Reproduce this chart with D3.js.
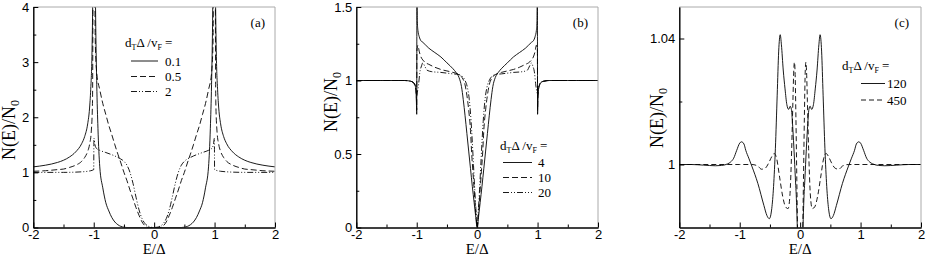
<!DOCTYPE html>
<html>
<head>
<meta charset="utf-8">
<script src="https://cdn.jsdelivr.net/npm/d3@7"></script>
<style>
  body { margin: 0; background: #fff; }
  svg { display: block; }
  .tick text { font-family: "Liberation Sans", Arial, sans-serif; font-size: 13px; fill: #000; }
  .tick line { stroke: #000; stroke-width: 1; }
  .serif { font-family: "Liberation Serif", "Times New Roman", serif; fill: #000; }
</style>
</head>
<body>
<svg id="chart" width="926" height="262"></svg>
<script>
// ---- data: [E/Δ, N(E)/N0] ----
let xMajor = [-2, -1, 0, 1, 2];
let xMinor = [-1.5, -0.5, 0.5, 1.5];

// panel (a)
let aYMajor = [0, 1, 2, 3, 4];
let aYMinor = [0.5, 1.5, 2.5, 3.5];
let aLabels = ['0.1', '0.5', '2'];
let a01 = [
  [-2, 1.10], [-1.8, 1.13], [-1.6, 1.18], [-1.5, 1.22], [-1.4, 1.28], [-1.3, 1.37], [-1.2, 1.52],
  [-1.15, 1.65], [-1.1, 1.88], [-1.07, 2.15], [-1.05, 2.5], [-1.03, 3.1], [-1.015, 4.2], [-1.0, 6],
  [-0.985, 6], [-0.97, 4.0], [-0.95, 2.6], [-0.93, 1.8], [-0.9, 1.1], [-0.85, 0.72], [-0.8, 0.45],
  [-0.75, 0.3], [-0.7, 0.18], [-0.65, 0.1], [-0.6, 0.05], [-0.55, 0.02], [-0.5, 0.005], [-0.45, 0],
  [0, 0],
  [0.45, 0], [0.5, 0.005], [0.55, 0.02], [0.6, 0.05], [0.65, 0.1], [0.7, 0.18], [0.75, 0.3],
  [0.8, 0.45], [0.85, 0.72], [0.9, 1.1], [0.93, 1.8], [0.95, 2.6], [0.97, 4.0], [0.985, 6],
  [1.0, 6], [1.015, 4.2], [1.03, 3.1], [1.05, 2.5], [1.07, 2.15], [1.1, 1.88], [1.15, 1.65],
  [1.2, 1.52], [1.3, 1.37], [1.4, 1.28], [1.5, 1.22], [1.6, 1.18], [1.8, 1.13], [2, 1.10]
];
let a05 = [
  [-2, 1.02], [-1.8, 1.03], [-1.6, 1.05], [-1.5, 1.06], [-1.4, 1.09], [-1.3, 1.13], [-1.2, 1.2],
  [-1.15, 1.27], [-1.1, 1.38], [-1.07, 1.5], [-1.04, 1.75], [-1.02, 2.3], [-1.005, 6], [-0.99, 6],
  [-0.975, 3.4], [-0.95, 2.8], [-0.9, 2.5], [-0.85, 2.25], [-0.8, 2.05], [-0.75, 1.85], [-0.7, 1.68],
  [-0.65, 1.5], [-0.6, 1.33], [-0.55, 1.17], [-0.5, 1.0], [-0.45, 0.85], [-0.4, 0.68], [-0.35, 0.52],
  [-0.3, 0.36], [-0.25, 0.22], [-0.2, 0.1], [-0.15, 0.03], [-0.1, 0],
  [0, 0],
  [0.1, 0], [0.15, 0.03], [0.2, 0.1], [0.25, 0.22], [0.3, 0.36], [0.35, 0.52], [0.4, 0.68],
  [0.45, 0.85], [0.5, 1.0], [0.55, 1.17], [0.6, 1.33], [0.65, 1.5], [0.7, 1.68], [0.75, 1.85],
  [0.8, 2.05], [0.85, 2.25], [0.9, 2.5], [0.95, 2.8], [0.975, 3.4], [0.99, 6], [1.005, 6],
  [1.02, 2.3], [1.04, 1.75], [1.07, 1.5], [1.1, 1.38], [1.15, 1.27], [1.2, 1.2], [1.3, 1.13],
  [1.4, 1.09], [1.5, 1.06], [1.6, 1.05], [1.8, 1.03], [2, 1.02]
];
let a2 = [
  [-2, 1.0], [-1.5, 1.0], [-1.2, 1.01], [-1.1, 1.02], [-1.05, 1.03], [-1.0, 1.05], [-0.997, 1.62],
  [-0.98, 1.5], [-0.95, 1.43], [-0.9, 1.4], [-0.8, 1.36], [-0.7, 1.32], [-0.6, 1.27], [-0.5, 1.2],
  [-0.45, 1.13], [-0.4, 1.0], [-0.35, 0.8], [-0.3, 0.55], [-0.25, 0.32], [-0.2, 0.16],
  [-0.15, 0.07], [-0.1, 0.025], [-0.05, 0.005], [0, 0],
  [0.05, 0.005], [0.1, 0.025], [0.15, 0.07], [0.2, 0.16], [0.25, 0.32], [0.3, 0.55], [0.35, 0.8],
  [0.4, 1.0], [0.45, 1.13], [0.5, 1.2], [0.6, 1.27], [0.7, 1.32], [0.8, 1.36], [0.9, 1.4],
  [0.95, 1.43], [0.98, 1.5], [0.997, 1.62], [1.0, 1.05], [1.05, 1.03], [1.1, 1.02],
  [1.2, 1.01], [1.5, 1.0], [2, 1.0]
];

// panel (b)
let bYMajor = [0, 0.5, 1, 1.5];
let bYMinor = [0.25, 0.75, 1.25];
let bLabels = ['4', '10', '20'];
let b4 = [
  [-2, 1.0], [-1.5, 1.0], [-1.2, 1.0], [-1.1, 0.995], [-1.05, 0.985], [-1.03, 0.97], [-1.015, 0.94],
  [-1.005, 0.85], [-1.0, 0.77], [-0.997, 1.6], [-0.99, 1.4], [-0.98, 1.34], [-0.96, 1.3], [-0.93, 1.27],
  [-0.9, 1.26], [-0.8, 1.22], [-0.7, 1.19], [-0.6, 1.16], [-0.5, 1.12], [-0.4, 1.08], [-0.35, 1.055],
  [-0.3, 1.02], [-0.26, 0.96], [-0.23, 0.87], [-0.2, 0.76], [-0.17, 0.64], [-0.14, 0.52], [-0.11, 0.4],
  [-0.08, 0.28], [-0.05, 0.17], [-0.025, 0.08], [0, 0],
  [0.025, 0.08], [0.05, 0.17], [0.08, 0.28], [0.11, 0.4], [0.14, 0.52], [0.17, 0.64], [0.2, 0.76],
  [0.23, 0.87], [0.26, 0.96], [0.3, 1.02], [0.35, 1.055], [0.4, 1.08], [0.5, 1.12], [0.6, 1.16],
  [0.7, 1.19], [0.8, 1.22], [0.9, 1.26], [0.93, 1.27], [0.96, 1.3], [0.98, 1.34], [0.99, 1.4],
  [0.997, 1.6], [1.0, 0.77], [1.005, 0.85], [1.015, 0.94], [1.03, 0.97], [1.05, 0.985], [1.1, 0.995],
  [1.2, 1.0], [1.5, 1.0], [2, 1.0]
];
let b10 = [
  [-2, 1.0], [-1.2, 1.0], [-1.1, 0.995], [-1.05, 0.98], [-1.02, 0.95], [-1.005, 0.88], [-1.0, 0.8],
  [-0.997, 1.2], [-0.98, 1.24], [-0.96, 1.2], [-0.93, 1.16], [-0.9, 1.14], [-0.85, 1.12], [-0.8, 1.11],
  [-0.7, 1.09], [-0.6, 1.075], [-0.5, 1.065], [-0.4, 1.055], [-0.3, 1.04], [-0.25, 1.02], [-0.2, 0.97],
  [-0.17, 0.9], [-0.14, 0.8], [-0.11, 0.66], [-0.09, 0.5], [-0.07, 0.38], [-0.05, 0.26], [-0.03, 0.14],
  [-0.015, 0.06], [0, 0],
  [0.015, 0.06], [0.03, 0.14], [0.05, 0.26], [0.07, 0.38], [0.09, 0.5], [0.11, 0.66], [0.14, 0.8],
  [0.17, 0.9], [0.2, 0.97], [0.25, 1.02], [0.3, 1.04], [0.4, 1.055], [0.5, 1.065], [0.6, 1.075],
  [0.7, 1.09], [0.8, 1.11], [0.85, 1.12], [0.9, 1.14], [0.93, 1.16], [0.96, 1.2], [0.98, 1.24],
  [0.997, 1.2], [1.0, 0.8], [1.005, 0.88], [1.02, 0.95], [1.05, 0.98], [1.1, 0.995], [1.2, 1.0], [2, 1.0]
];
let b20 = [
  [-2, 1.0], [-1.2, 1.0], [-1.1, 0.995], [-1.05, 0.985], [-1.02, 0.96], [-1.0, 0.9], [-0.99, 0.92],
  [-0.97, 0.97], [-0.95, 1.05], [-0.92, 1.1], [-0.9, 1.12], [-0.87, 1.1], [-0.83, 1.07], [-0.75, 1.06],
  [-0.6, 1.055], [-0.5, 1.05], [-0.4, 1.045], [-0.3, 1.04], [-0.25, 1.03], [-0.2, 1.0], [-0.16, 0.95],
  [-0.13, 0.87], [-0.1, 0.72], [-0.08, 0.58], [-0.06, 0.42], [-0.04, 0.26], [-0.02, 0.12], [0, 0],
  [0.02, 0.12], [0.04, 0.26], [0.06, 0.42], [0.08, 0.58], [0.1, 0.72], [0.13, 0.87], [0.16, 0.95],
  [0.2, 1.0], [0.25, 1.03], [0.3, 1.04], [0.4, 1.045], [0.5, 1.05], [0.6, 1.055], [0.75, 1.06],
  [0.83, 1.07], [0.87, 1.1], [0.9, 1.12], [0.92, 1.1], [0.95, 1.05], [0.97, 0.97], [0.99, 0.92],
  [1.0, 0.9], [1.02, 0.96], [1.05, 0.985], [1.1, 0.995], [1.2, 1.0], [2, 1.0]
];

// panel (c)
let cYMajor = [1, 1.04];
let cYMinor = [1.02];
let cLabels = ['120', '450'];
let c120 = [
  [-2, 1.0], [-1.8, 1.0], [-1.6, 0.9998], [-1.4, 0.9996], [-1.3, 0.9997], [-1.2, 1.0002], [-1.15, 1.0008],
  [-1.1, 1.002], [-1.05, 1.0045], [-1.0, 1.0068], [-0.97, 1.0072], [-0.93, 1.0065], [-0.9, 1.0045],
  [-0.85, 1.002], [-0.8, 0.9995], [-0.7, 0.994], [-0.6, 0.987], [-0.55, 0.9838], [-0.51, 0.9828],
  [-0.47, 0.986], [-0.44, 0.993], [-0.41, 1.005], [-0.38, 1.022], [-0.355, 1.036], [-0.33, 1.0412],
  [-0.31, 1.038], [-0.28, 1.03], [-0.25, 1.024], [-0.22, 1.019], [-0.19, 1.0175], [-0.165, 1.0185],
  [-0.145, 1.0175], [-0.12, 1.011], [-0.1, 1.004], [-0.08, 0.996], [-0.06, 0.988], [-0.045, 0.978],
  [-0.03, 0.96], [0, 0.94],
  [0.03, 0.96], [0.045, 0.978], [0.06, 0.988], [0.08, 0.996], [0.1, 1.004], [0.12, 1.011],
  [0.145, 1.0175], [0.165, 1.0185], [0.19, 1.0175], [0.22, 1.019], [0.25, 1.024], [0.28, 1.03],
  [0.31, 1.038], [0.33, 1.0412], [0.355, 1.036], [0.38, 1.022], [0.41, 1.005], [0.44, 0.993],
  [0.47, 0.986], [0.51, 0.9828], [0.55, 0.9838], [0.6, 0.987], [0.7, 0.994], [0.8, 0.9995],
  [0.85, 1.002], [0.9, 1.0045], [0.93, 1.0065], [0.97, 1.0072], [1.0, 1.0068], [1.05, 1.0045],
  [1.1, 1.002], [1.15, 1.0008], [1.2, 1.0002], [1.3, 0.9997], [1.4, 0.9996], [1.6, 0.9998],
  [1.8, 1.0], [2, 1.0]
];
let c450 = [
  [-2, 1.0], [-1.0, 1.0], [-0.8, 1.0], [-0.7, 0.9995], [-0.64, 0.9985], [-0.58, 0.9988], [-0.52, 1.0005],
  [-0.47, 1.0025], [-0.43, 1.0035], [-0.39, 1.002], [-0.34, 0.996], [-0.29, 0.99], [-0.24, 0.9865],
  [-0.2, 0.986], [-0.17, 0.99], [-0.14, 1.005], [-0.12, 1.02], [-0.105, 1.03], [-0.095, 1.0325],
  [-0.085, 1.03], [-0.07, 1.015], [-0.055, 0.995], [-0.04, 0.975], [-0.02, 0.95], [0, 0.94],
  [0.02, 0.95], [0.04, 0.975], [0.055, 0.995], [0.07, 1.015], [0.085, 1.03], [0.095, 1.0325],
  [0.105, 1.03], [0.12, 1.02], [0.14, 1.005], [0.17, 0.99], [0.2, 0.986], [0.24, 0.9865],
  [0.29, 0.99], [0.34, 0.996], [0.39, 1.002], [0.43, 1.0035], [0.47, 1.0025], [0.52, 1.0005],
  [0.58, 0.9988], [0.64, 0.9985], [0.7, 0.9995], [0.8, 1.0], [1.0, 1.0], [2, 1.0]
];

// ---- layout ----
let dashSolid = null;
let dashDashed = '6,3';
let dashDot = '6,2,1,2,1,2';

let panels = [
  {
    name: '(a)', left: 33.3, right: 275, top: 7, bottom: 227.5,
    yDomain: [0, 4], yMajor: aYMajor, yMinor: aYMinor,
    series: [a01, a05, a2], dashes: [dashSolid, dashDashed, dashDot], labels: aLabels,
    legend: { x: 125, y: 47, lineX0: 131, lineX1: 158, textX: 165, rows: [61, 76.5, 91.5] },
    tag: { x: 265, y: 27 },
    yTitle: { x: 15, y: 130 }
  },
  {
    name: '(b)', left: 356.3, right: 598, top: 7, bottom: 227.5,
    yDomain: [0, 1.5], yMajor: bYMajor, yMinor: bYMinor,
    series: [b4, b10, b20], dashes: [dashSolid, dashDashed, dashDot], labels: bLabels,
    legend: { x: 500, y: 150, lineX0: 503, lineX1: 532, textX: 538, rows: [162.5, 177.5, 192.5] },
    tag: { x: 588, y: 27 },
    yTitle: { x: 337, y: 102 }
  },
  {
    name: '(c)', left: 679.3, right: 921, top: 7, bottom: 227.5,
    yDomain: [0.98, 1.05], yMajor: cYMajor, yMinor: cYMinor,
    series: [c120, c450], dashes: [dashSolid, '5,3'], labels: cLabels,
    legend: { x: 842, y: 70, lineX0: 861, lineX1: 885, textX: 887, rows: [83.5, 100] },
    tag: { x: 909, y: 27 },
    yTitle: { x: 663, y: 118 }
  }
];

let svg = d3.select('#chart');

panels.forEach((p, i) => {
  let x = d3.scaleLinear().domain([-2, 2]).range([p.left, p.right]);
  let y = d3.scaleLinear().domain(p.yDomain).range([p.bottom, p.top]);
  let g = svg.append('g');

  // clip
  svg.append('clipPath').attr('id', 'clip' + i)
    .append('rect')
    .attr('x', p.left).attr('y', p.top)
    .attr('width', p.right - p.left).attr('height', p.bottom - p.top);

  // curves
  let line = d3.line()
    .x(d => x(d[0]))
    .y(d => y(d[1]))
    .curve(d3.curveMonotoneX);

  let curves = g.append('g').attr('clip-path', `url(#clip${i})`);
  p.series.forEach((s, k) => {
    curves.append('path')
      .datum(s)
      .attr('d', line)
      .attr('fill', 'none')
      .attr('stroke', '#000')
      .attr('stroke-width', 0.9)
      .attr('stroke-dasharray', p.dashes[k]);
  });

  // frame: top/right grey, left/bottom black
  g.append('line').attr('x1', p.left).attr('x2', p.right).attr('y1', p.top).attr('y2', p.top)
    .attr('stroke', '#aaa');
  g.append('line').attr('x1', p.right).attr('x2', p.right).attr('y1', p.top).attr('y2', p.bottom)
    .attr('stroke', '#aaa');

  // axes (ticks point inward)
  let fmt = d => String(d);
  g.append('g').attr('transform', `translate(0,${p.bottom})`)
    .call(d3.axisBottom(x).tickValues(xMajor).tickFormat(fmt).tickSize(-5).tickSizeOuter(0).tickPadding(2));
  g.append('g').attr('transform', `translate(0,${p.bottom})`)
    .call(d3.axisBottom(x).tickValues(xMinor).tickFormat('').tickSize(-3).tickSizeOuter(0));
  g.append('g').attr('transform', `translate(${p.left},0)`)
    .call(d3.axisLeft(y).tickValues(p.yMajor).tickFormat(fmt).tickSize(-5).tickSizeOuter(0).tickPadding(4));
  g.append('g').attr('transform', `translate(${p.left},0)`)
    .call(d3.axisLeft(y).tickValues(p.yMinor).tickFormat('').tickSize(-3).tickSizeOuter(0));
  g.selectAll('.domain').attr('stroke', '#000').attr('stroke-width', 1);

  // x title
  g.append('text').attr('class', 'serif')
    .attr('x', (p.left + p.right) / 2).attr('y', 254)
    .attr('text-anchor', 'middle')
    .style('font-size', '15px')
    .text('E/Δ');

  // y title
  let yt = g.append('text').attr('class', 'serif')
    .attr('transform', `translate(${p.yTitle.x},${p.yTitle.y}) rotate(-90)`)
    .attr('text-anchor', 'middle')
    .style('font-size', '18px');
  yt.append('tspan').text('N(E)/N');
  yt.append('tspan').attr('dy', 4).style('font-size', '12px').text('0');

  // panel tag
  g.append('text').attr('class', 'serif')
    .attr('x', p.tag.x).attr('y', p.tag.y)
    .attr('text-anchor', 'end')
    .style('font-size', '13px')
    .text(p.name);

  // legend
  let lg = p.legend;
  let title = g.append('text').attr('class', 'serif')
    .attr('x', lg.x).attr('y', lg.y)
    .style('font-size', '13px');
  title.append('tspan').text('d');
  title.append('tspan').attr('dy', 3).style('font-size', '8px').text('T');
  title.append('tspan').attr('dy', -3).text('Δ /v');
  title.append('tspan').attr('dy', 3).style('font-size', '8px').text('F');
  title.append('tspan').attr('dy', -3).text(' =');

  p.labels.forEach((lab, k) => {
    g.append('line')
      .attr('x1', lg.lineX0).attr('x2', lg.lineX1)
      .attr('y1', lg.rows[k]).attr('y2', lg.rows[k])
      .attr('stroke', '#000').attr('stroke-width', 0.9)
      .attr('stroke-dasharray', p.dashes[k]);
    g.append('text').attr('class', 'serif')
      .attr('x', lg.textX).attr('y', lg.rows[k] + 4.5)
      .style('font-size', '13px')
      .text(lab);
  });
});
</script>
</body>
</html>
